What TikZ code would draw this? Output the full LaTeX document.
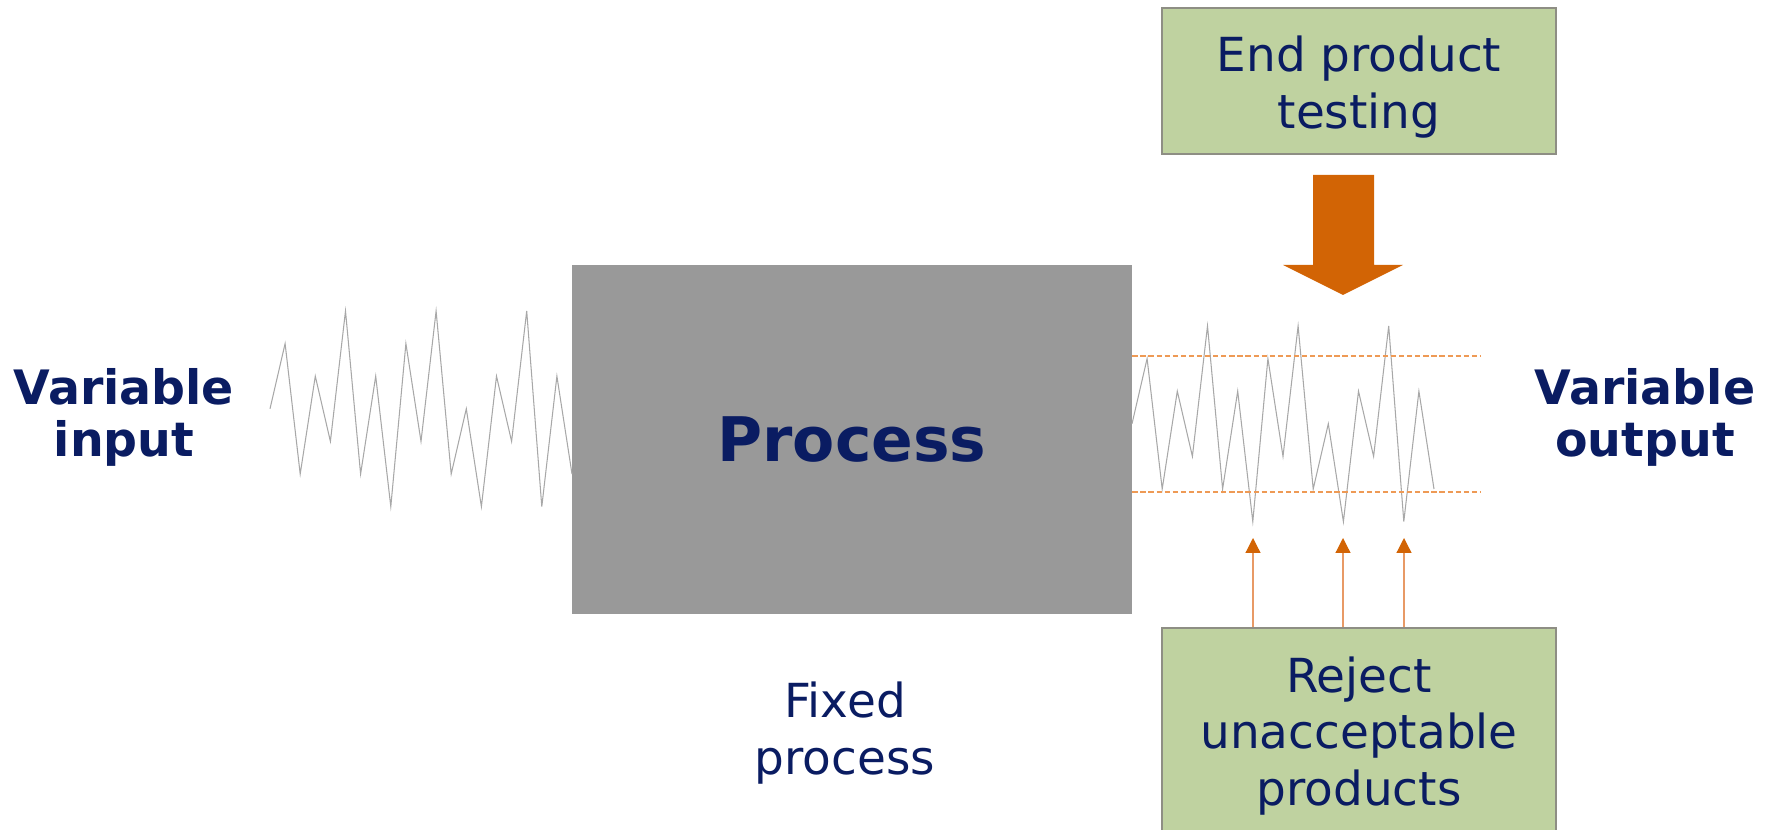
\documentclass[tikz,border=0pt]{standalone}
\usepackage{fontspec}
\setmainfont{DejaVu Sans}
\usetikzlibrary{arrows.meta}
\definecolor{navy}{HTML}{0A1C62}
\definecolor{processgray}{HTML}{999999}
\definecolor{boxgreen}{HTML}{BFD2A0}
\definecolor{boxedge}{HTML}{8E8E84}
\definecolor{wavegray}{HTML}{A8A8A8}
\definecolor{limitorange}{HTML}{EE9A55}
\definecolor{thinorange}{HTML}{E89A66}
\definecolor{arroworange}{HTML}{D26405}
\tikzset{greenbox/.style={draw=boxedge,fill=boxgreen,line width=0.8pt,inner sep=0pt,minimum width=7.88cm}}
\tikzset{boxtext/.style={text=navy,align=center,inner sep=0pt,font=\fontsize{26.7}{32.4}\selectfont}}
\tikzset{sidetext/.style={text=navy,align=center,inner sep=0pt,font=\bfseries\fontsize{27}{29.6}\selectfont}}
\tikzset{wave/.style={draw=wavegray,line width=0.6pt,line join=miter}}
\tikzset{limit/.style={draw=limitorange,line width=0.7pt,dash pattern=on 3pt off 1.6pt}}
\tikzset{rejectarrow/.style={draw=thinorange,line width=0.7pt,-{Triangle[width=8.5pt,length=8.5pt,color=arroworange]}}}

\begin{document}
\begin{tikzpicture}[x=0.02cm,y=-0.02cm]
      \useasboundingbox (0,0) rectangle (1776,830);
      \pgfmathsetmacro{\wstep}{15.1}
      \pgfmathsetmacro{\wlevel}{32.6}

      \node[fill=processgray,minimum width=11.2cm,minimum height=6.98cm,inner sep=0pt,text=navy,font=\bfseries\fontsize{35}{40}\selectfont] (process) at (852,439.5) {Process};

      \node[sidetext] (input) at (124,417) {Variable\\input};
      \node[sidetext] (output) at (1645,417) {Variable\\output};
      \node[boxtext] (fixed) at (845,733) {Fixed\\process};

      \draw[wave] (270,311+3*\wlevel) \foreach \l [count=\i] in {1,5,2,4,0,5,2,6,1,4,0,5,3,6,2,4,0,6,2,5} { -- (270+\wstep*\i,311+\wlevel*\l) };
      \draw[wave] (1132,326+3*\wlevel) \foreach \l [count=\i] in {1,5,2,4,0,5,2,6,1,4,0,5,3,6,2,4,0,6,2,5} { -- (1132+\wstep*\i,326+\wlevel*\l) };

      \draw[limit] (process.east |- 0,356) -- (1480,356);
      \draw[limit] (process.east |- 0,492) -- (1480,492);

      \node[greenbox,minimum height=2.92cm] (endtest) at (1359,81) {};
      \node[boxtext] (endtext) at (1359,87) {End product\\testing};
      \fill[arroworange] (1313,175) -- (1374,175) -- (1374,265) -- (1403,265) -- (1343,295) -- (1283,265) -- (1313,265) -- cycle;

      \node[greenbox,minimum height=4.44cm] (reject) at (1359,739) {};
      \node[boxtext] (rejecttext) at (1359,736) {Reject\\unacceptable\\products};

      \coordinate (low1) at (1253,538);
      \coordinate (low2) at (1343,538);
      \coordinate (low3) at (1404,538);
      \foreach \c in {low1,low2,low3}
        \draw[rejectarrow] (\c |- reject.north) -- (\c);
\end{tikzpicture}
\end{document}
